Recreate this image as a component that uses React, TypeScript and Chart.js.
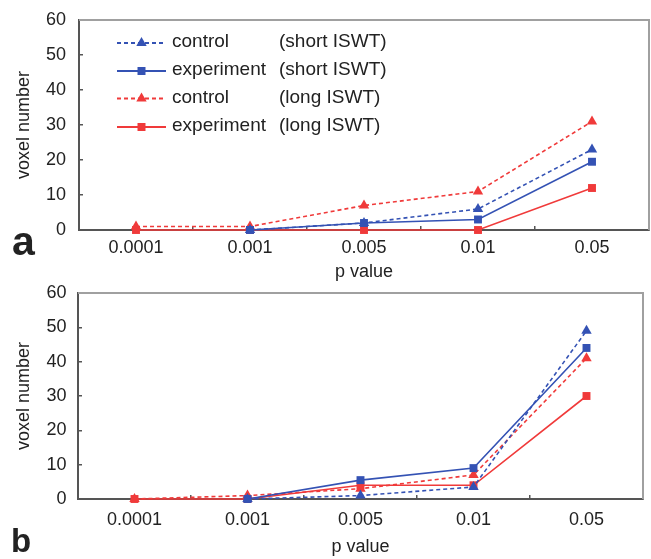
import React, { useEffect, useRef } from "react";
import { Chart, registerables } from "chart.js";
Chart.register(...registerables);

const categories = ["0.0001", "0.001", "0.005", "0.01", "0.05"];
const seriesNames = ["control", "experiment", "control", "experiment"];
const seriesGroups = ["(short ISWT)", "(short ISWT)", "(long ISWT)", "(long ISWT)"];
const yTickValues = [0, 10, 20, 30, 40, 50, 60];

// panel a
const controlShortA = [null, 0, 2, 6, 23];
const experimentShortA = [null, 0, 2, 3, 19.5];
const controlLongA = [1, 1, 7, 11, 31];
const experimentLongA = [0, 0, 0, 0, 12];

// panel b
const controlShortB = [null, 0, 1, 3.5, 49];
const experimentShortB = [null, 0, 5.5, 9, 44];
const controlLongB = [0, 1, 3, 7, 41];
const experimentLongB = [0, 0, 4, 4, 30];

const BLUE = "#3452b4";
const RED = "#f03a3a";
const FONT = "'Liberation Sans', Arial, sans-serif";

const seriesColors = [BLUE, BLUE, RED, RED];
const seriesDashed = [true, false, true, false];
const seriesMarkers = ["triangle", "rect", "triangle", "rect"];

function drawMarker(ctx: CanvasRenderingContext2D, kind: string, x: number, y: number, color: string) {
  ctx.fillStyle = color;
  ctx.beginPath();
  if (kind === "triangle") {
    const r = 6;
    ctx.moveTo(x, y - r);
    ctx.lineTo(x + r * 0.866, y + r * 0.5);
    ctx.lineTo(x - r * 0.866, y + r * 0.5);
    ctx.closePath();
  } else {
    const s = 4;
    ctx.rect(x - s, y - s, 2 * s, 2 * s);
  }
  ctx.fill();
}

const framePlugin = {
  id: "frame",
  beforeDatasetsDraw(chart: any) {
    const { ctx, chartArea } = chart;
    const { left, right, top, bottom } = chartArea;
    ctx.save();
    ctx.strokeStyle = "#a0a0a0";
    ctx.lineWidth = 2;
    ctx.beginPath();
    ctx.moveTo(left, top);
    ctx.lineTo(right, top);
    ctx.lineTo(right, bottom);
    ctx.stroke();
    ctx.restore();
  },
};

const legendPlugin = {
  id: "customLegend",
  afterDraw(chart: any) {
    const opts = chart.options.plugins.customLegend;
    if (!opts || !opts.show) return;
    const { ctx } = chart;
    ctx.save();
    const rows = [42, 70, 97.5, 126];
    chart.data.datasets.forEach((ds: any, i: number) => {
      const y = rows[i];
      const color = seriesColors[i];
      ctx.strokeStyle = color;
      ctx.lineWidth = 1.8;
      ctx.setLineDash(seriesDashed[i] ? [4, 3] : []);
      ctx.beginPath();
      ctx.moveTo(117, y + 1);
      ctx.lineTo(166, y + 1);
      ctx.stroke();
      ctx.setLineDash([]);
      drawMarker(ctx, seriesMarkers[i], 141.5, y + 1, color);
      ctx.fillStyle = "#222";
      ctx.font = `19px ${FONT}`;
      ctx.textBaseline = "middle";
      ctx.textAlign = "left";
      ctx.fillText(seriesNames[i], 172, y);
      ctx.fillText(seriesGroups[i], 279, y);
    });
    ctx.restore();
  },
};

function makeDatasets(values: (number | null)[][]) {
  return values.map((v, i) => ({
    label: seriesNames[i] + " " + seriesGroups[i],
    data: v,
    borderColor: seriesColors[i],
    backgroundColor: seriesColors[i],
    borderWidth: 1.6,
    borderDash: seriesDashed[i] ? [4, 3] : [],
    pointStyle: seriesMarkers[i],
    pointRadius: seriesMarkers[i] === "triangle" ? 6 : 5.6,
    pointBorderWidth: 0,
    tension: 0,
    clip: false as any,
    spanGaps: false,
  }));
}

interface PanelOpts {
  values: (number | null)[][];
  height: number;
  padTop: number;
  padRight: number;
  yWidth: number;
  xHeight: number;
  yLabelPad: number;
  xLabelPad: number;
  xTitlePadBottom: number;
  yTitlePadTop: number;
  legend: boolean;
}

function Panel(p: PanelOpts) {
  const ref = useRef<HTMLCanvasElement | null>(null);
  useEffect(() => {
    if (!ref.current) return;
    const chart = new Chart(ref.current, {
      type: "line",
      data: { labels: categories, datasets: makeDatasets(p.values) as any },
      plugins: [framePlugin, legendPlugin],
      options: {
        animation: false,
        responsive: false,
        devicePixelRatio: 1,
        layout: {
          autoPadding: false,
          padding: { top: p.padTop, right: p.padRight, left: 0, bottom: 0 },
        },
        plugins: {
          legend: { display: false },
          tooltip: { enabled: false },
          customLegend: { show: p.legend },
        } as any,
        scales: {
          x: {
            type: "category",
            offset: true,
            grid: {
              offset: true,
              drawOnChartArea: false,
              drawTicks: true,
              tickLength: -4,
              color: "#555",
              lineWidth: 1.5,
            },
            border: { color: "#555", width: 2 },
            ticks: {
              color: "#222",
              font: { family: FONT, size: 18 },
              padding: p.xLabelPad,
              maxRotation: 0,
            },
            title: {
              display: true,
              text: "p value",
              color: "#222",
              font: { family: FONT, size: 18 },
              padding: { top: 0, bottom: p.xTitlePadBottom },
            },
            afterFit: (s: any) => {
              s.height = p.xHeight;
              s.paddingLeft = 0;
              s.paddingRight = 0;
            },
          },
          y: {
            min: 0,
            max: 60,
            afterBuildTicks: (s: any) => {
              s.ticks = yTickValues.map((v) => ({ value: v }));
            },
            grid: {
              drawOnChartArea: false,
              drawTicks: true,
              tickLength: -4,
              color: "#555",
              lineWidth: 1.5,
            },
            border: { color: "#555", width: 2 },
            ticks: {
              color: "#222",
              font: { family: FONT, size: 18 },
              padding: p.yLabelPad,
            },
            title: {
              display: true,
              text: "voxel number",
              color: "#222",
              font: { family: FONT, size: 18 },
              padding: { top: p.yTitlePadTop, bottom: 0 },
            },
            afterFit: (s: any) => {
              s.width = p.yWidth;
              s.paddingTop = 0;
              s.paddingBottom = 0;
            },
          },
        },
      } as any,
    });
    return () => chart.destroy();
  }, []);
  return <canvas ref={ref} width={651} height={p.height} style={{ display: "block" }} />;
}

export default function App() {
  return (
    <div
      style={{
        position: "absolute",
        left: 0,
        top: 0,
        width: 651,
        height: 559,
        background: "#fff",
        overflow: "hidden",
        fontFamily: FONT,
      }}
    >
      <div style={{ position: "absolute", left: 0, top: 0 }}>
        <Panel
          values={[controlShortA, experimentShortA, controlLongA, experimentLongA]}
          height={300}
          padTop={20}
          padRight={2}
          yWidth={79}
          xHeight={70}
          yLabelPad={17}
          xLabelPad={11}
          xTitlePadBottom={17.5}
          yTitlePadTop={13}
          legend={true}
        />
      </div>
      <div style={{ position: "absolute", left: 0, top: 280 }}>
        <Panel
          values={[controlShortB, experimentShortB, controlLongB, experimentLongB]}
          height={279}
          padTop={13}
          padRight={8}
          yWidth={78}
          xHeight={60}
          yLabelPad={15.5}
          xLabelPad={14}
          xTitlePadBottom={1.5}
          yTitlePadTop={13}
          legend={false}
        />
      </div>
      <div
        style={{
          position: "absolute",
          left: 12,
          top: 221,
          fontSize: 41,
          fontWeight: "bold",
          color: "#222",
          lineHeight: "40px",
        }}
      >
        a
      </div>
      <div
        style={{
          position: "absolute",
          left: 11,
          top: 521,
          fontSize: 33,
          fontWeight: "bold",
          color: "#222",
          lineHeight: "40px",
        }}
      >
        b
      </div>
    </div>
  );
}
